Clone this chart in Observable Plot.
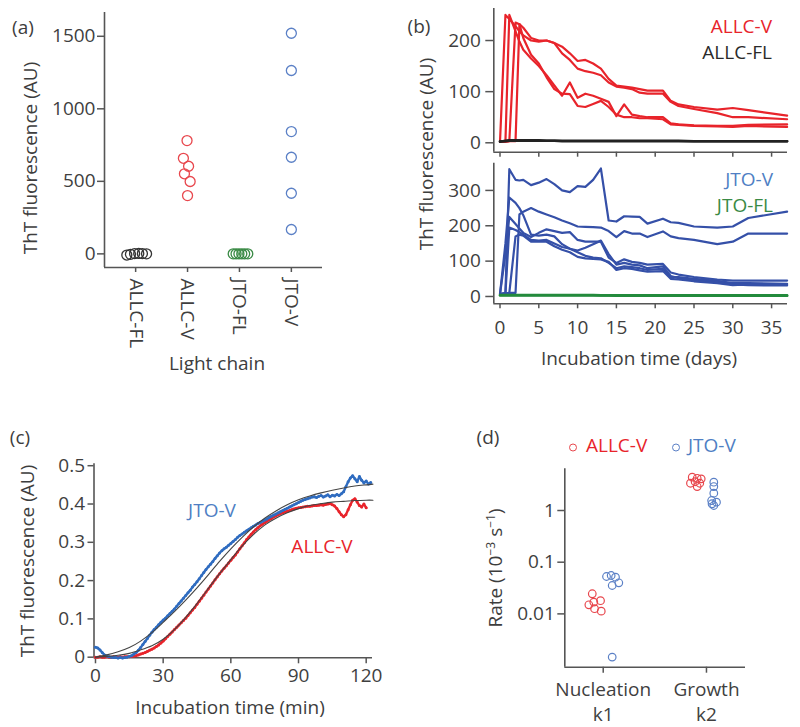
<!DOCTYPE html>
<html><head><meta charset="utf-8">
<script src="https://cdn.jsdelivr.net/npm/d3@7"></script>
<script src="https://cdn.jsdelivr.net/npm/@observablehq/plot@0.6"></script>
<style>
body{margin:0;background:#fff;}
#fig{position:relative;width:800px;height:727px;overflow:hidden;font-family:"Open Sans",Lato,sans-serif;color:#3d3d3d;}
#fig svg{position:absolute;left:0;top:0;}
#fig g[aria-label$="axis tick"] path{stroke-width:1.5;stroke:#555;}
.t{position:absolute;white-space:nowrap;font-size:19px;line-height:1;}
.c{transform:translate(-50%,-50%);}
.r{transform:translate(-100%,-50%);}
.l{transform:translate(0,-50%);}
.v{transform:translate(-50%,-50%) rotate(-90deg);}
.dot{display:inline-block;width:8px;height:8px;border-radius:50%;box-sizing:border-box;border:1.3px solid;}
</style></head><body><div id="fig"></div>
<script>
// ---------- Panel (a) ----------
const catsA = ["ALLC-FL", "ALLC-V", "JTO-FL", "JTO-V"];
const a_ALLC_FL = [-8, -3, 2, 3, 2, 0];
const j_ALLC_FL = [-0.17, -0.1, -0.02, 0.06, 0.13, 0.21];
const a_ALLC_V = [781, 659, 604, 552, 499, 402];
const j_ALLC_V = [-0.01, -0.08, 0.02, -0.06, 0.05, 0];
const a_JTO_FL = [0, 0, 0, 0, 0, 0];
const j_JTO_FL = [-0.12, -0.065, -0.01, 0.045, 0.1, 0.16];
const a_JTO_V = [1521, 1264, 843, 666, 418, 168];
const j_JTO_V = [0, 0, 0, 0, 0, 0];

// ---------- Panel (b) ----------
const tB = [0, 0.7, 1.2, 2, 2.5, 3, 4, 5, 6, 7, 8, 9, 10, 11, 12, 13, 14, 15, 16, 17, 18, 19, 21, 22, 23, 25, 28, 30, 32, 37];
const allcV1 = [2, 250, 242, 228, 218, 210, 200, 198, 200, 195, 188, 175, 160, 162, 155, 145, 125, 112, 110, 108, 105, 102, 102, 82, 75, 70, 65, 68, 64, 53];
const allcV2 = [2, 2, 3, 235, 232, 225, 205, 200, 200, 195, 175, 162, 145, 140, 137, 132, 118, 110, 108, 105, 98, 96, 96, 80, 72, 66, 58, 50, 50, 46];
const allcV3 = [2, 3, 250, 218, 198, 182, 165, 150, 132, 112, 92, 118, 88, 96, 92, 86, 80, 52, 75, 55, 52, 50, 50, 38, 36, 34, 33, 33, 35, 36];
const allcV4 = [2, 2, 3, 3, 232, 205, 172, 155, 128, 105, 96, 95, 72, 70, 76, 82, 70, 55, 50, 50, 48, 48, 46, 36, 35, 33, 32, 31, 33, 31];
const allcFL1 = [2, 4, 5, 5, 5, 5, 5, 5, 4, 4, 4, 4, 4, 4, 4, 4, 4, 4, 4, 4, 4, 4, 4, 4, 4, 3, 3, 3, 3, 3];
const allcFL2 = [3, 3, 4, 4, 4, 4, 4, 4, 4, 4, 3, 3, 3, 3, 3, 3, 3, 3, 3, 3, 3, 3, 3, 3, 3, 3, 3, 3, 3, 3];
const jtoV1 = [7, 10, 360, 330, 328, 330, 315, 322, 332, 318, 300, 295, 312, 310, 330, 362, 215, 212, 227, 226, 225, 206, 220, 210, 208, 198, 195, 198, 222, 240];
const jtoV2 = [7, 8, 10, 10, 232, 240, 250, 240, 232, 224, 215, 207, 198, 197, 196, 195, 185, 168, 185, 178, 178, 168, 184, 170, 165, 160, 148, 155, 178, 178];
const jtoV3 = [7, 150, 280, 265, 250, 230, 175, 172, 175, 170, 148, 135, 125, 115, 110, 108, 95, 80, 85, 83, 80, 75, 78, 55, 55, 50, 44, 38, 38, 36];
const jtoV4 = [7, 120, 225, 205, 192, 180, 168, 180, 190, 185, 180, 182, 160, 155, 155, 155, 110, 95, 105, 98, 95, 90, 92, 68, 62, 55, 48, 45, 45, 45];
const jtoV5 = [7, 8, 195, 188, 182, 175, 160, 158, 160, 150, 140, 135, 130, 138, 148, 158, 120, 90, 95, 90, 88, 80, 85, 58, 52, 46, 40, 34, 32, 31];
const jtoV6 = [7, 8, 10, 170, 175, 172, 155, 155, 155, 142, 132, 125, 112, 108, 106, 105, 98, 75, 80, 78, 74, 70, 72, 50, 48, 43, 38, 32, 34, 34];
const jtoFL1 = [4, 4, 4, 4, 4, 4, 4, 4, 4, 4, 4, 4, 4, 4, 4, 3, 3, 3, 3, 3, 3, 3, 3, 3, 3, 3, 3, 3, 3, 3];
const jtoFL2 = [3, 3, 3, 3, 3, 3, 3, 3, 3, 3, 3, 3, 3, 3, 3, 3, 3, 2, 2, 2, 2, 2, 2, 2, 2, 2, 2, 2, 2, 2];

// ---------- Panel (c) ----------
const tC = [0,1,2,3,4,5,6,7,8,9,10,11,12,13,14,15,16,17,18,19,20,21,22,23,24,25,26,27,28,29,30,31,32,33,34,35,36,37,38,39,40,41,42,43,44,45,46,47,48,49,50,51,52,53,54,55,56,57,58,59,60,61,62,63,64,65,66,67,68,69,70,71,72,73,74,75,76,77,78,79,80,81,82,83,84,85,86,87,88,89,90,91,92,93,94,95,96,97,98,99,100,101,102,103,104,105,106,107,108,109,110,111,112,113,114,115,116,117,118,119,120,121,122];
const jtoC = [0.026,0.024,0.019,0.012,0.006,0.003,0.001,0.000,-0.001,-0.001,
 -0.002,-0.001,-0.002,-0.001,0.000,0.002,0.004,0.008,0.012,0.018,
 0.025,0.033,0.041,0.049,0.057,0.065,0.072,0.078,0.085,0.091,
 0.097,0.102,0.108,0.114,0.120,0.126,0.133,0.140,0.147,0.154,
 0.161,0.168,0.175,0.183,0.190,0.197,0.205,0.213,0.221,0.229,
 0.236,0.243,0.250,0.258,0.265,0.272,0.278,0.283,0.287,0.292,
 0.297,0.302,0.307,0.313,0.318,0.322,0.326,0.330,0.334,0.338,
 0.342,0.345,0.349,0.352,0.355,0.358,0.361,0.365,0.368,0.371,
 0.374,0.377,0.380,0.383,0.386,0.389,0.392,0.395,0.398,0.401,
 0.404,0.407,0.410,0.412,0.414,0.416,0.418,0.419,0.417,0.420,
 0.422,0.418,0.421,0.424,0.419,0.423,0.421,0.425,0.422,0.427,
 0.432,0.445,0.458,0.468,0.474,0.466,0.458,0.472,0.462,0.455,
 0.460,0.452,0.456];
const allcC = [0.000,0.000,0.001,0.000,0.000,0.001,0.000,0.000,0.001,0.000,
 0.000,0.001,0.000,0.001,0.001,0.001,0.002,0.003,0.004,0.006,
 0.008,0.010,0.012,0.015,0.018,0.021,0.024,0.028,0.032,0.037,
 0.042,0.048,0.054,0.060,0.066,0.072,0.078,0.084,0.090,0.096,
 0.102,0.109,0.116,0.123,0.130,0.138,0.146,0.154,0.162,0.170,
 0.178,0.186,0.194,0.202,0.210,0.218,0.225,0.232,0.239,0.246,
 0.253,0.260,0.267,0.275,0.283,0.291,0.299,0.307,0.314,0.321,
 0.327,0.333,0.338,0.343,0.347,0.351,0.355,0.359,0.362,0.366,
 0.369,0.372,0.375,0.377,0.379,0.381,0.383,0.385,0.387,0.389,
 0.390,0.391,0.392,0.393,0.394,0.394,0.395,0.396,0.396,0.397,
 0.398,0.397,0.399,0.400,0.401,0.398,0.395,0.388,0.380,0.372,
 0.367,0.372,0.385,0.398,0.410,0.414,0.405,0.396,0.392,0.400,
 0.390];
const tFit = [0,5,10,15,20,25,30,35,40,45,50,55,60,65,70,75,80,85,90,95,100,105,110,115,120,123];
const fitJTO = [0,0.006,0.014,0.025,0.042,0.064,0.091,0.119,0.149,0.181,0.215,0.25,0.283,0.313,0.34,0.363,0.382,0.398,0.411,0.421,0.429,0.436,0.442,0.447,0.45,0.452];
const fitALLC = [0,0.002,0.005,0.01,0.019,0.03,0.047,0.072,0.104,0.14,0.179,0.218,0.255,0.29,0.32,0.345,0.363,0.377,0.388,0.396,0.401,0.405,0.407,0.409,0.41,0.41];

// ---------- Panel (d) ----------
const catsD = ["Nucleation\nk1", "Growth\nk2"];
const k1_ALLC = [0.0245, 0.015, 0.018, 0.0169, 0.0126, 0.0113];
const k1_ALLC_j = [-0.106, -0.139, -0.026, -0.091, -0.084, -0.019];
const k1_JTO = [0.0529, 0.0553, 0.0513, 0.0399, 0.0354, 0.00146];
const k1_JTO_j = [0.032, 0.077, 0.119, 0.151, 0.087, 0.087];
const k2_ALLC = [4.41, 4.2, 4.1, 3.6, 3.37, 3.37, 2.91];
const k2_ALLC_j = [-0.138, -0.09, -0.051, -0.11, -0.155, -0.065, -0.09];
const k2_JTO = [3.53, 2.91, 2.16, 1.56, 1.45, 1.25, 1.35];
const k2_JTO_j = [0.071, 0.071, 0.071, 0.05, 0.097, 0.071, 0.054];

// ---------- styling ----------
const RED = "#e8242b", RED_A = "#e8474d", BLUE_A = "#5b80c6", BLUE_B = "#3550a8", BLUE_C = "#2f6cc0";
const GREEN = "#238a3c", GREEN_A = "#3a8a45", BLACK = "#222", AX = "#555", TXT = "#3f3f3f";
const ST = {background: "transparent", fontFamily: "'Open Sans', Lato, sans-serif", fontSize: "19px", color: TXT, overflow: "visible"};
function frame(l, r, t, b) {
  return {width: 800, height: 727, marginLeft: l, marginRight: 800 - r, marginTop: t, marginBottom: 727 - b, style: ST};
}
const fig = document.getElementById("fig");
const add = (p) => fig.appendChild(p);
const pts = (vals, jit, base) => vals.map((v, k) => ({x: base + jit[k], y: v}));
const series = (t, vals) => vals.map((v, k) => ({t: t[k], v}));

// Panel (a)
add(Plot.plot({
  ...frame(104, 322, 12, 267),
  x: {domain: [-0.6, 3.6], ticks: [0, 1, 2, 3], tickFormat: (i) => catsA[i], tickRotate: 90, tickSize: 5, tickPadding: 6, label: null},
  y: {domain: [-94, 1664], ticks: [0, 500, 1000, 1500], tickFormat: d => String(d), tickSize: 7, tickPadding: 2, label: null},
  marks: [
    Plot.ruleX([-0.6], {stroke: AX, strokeWidth: 1.6}),
    Plot.ruleY([-94], {stroke: AX, strokeWidth: 1.6}),
    Plot.dot(pts(a_ALLC_FL, j_ALLC_FL, 0), {x: "x", y: "y", r: 5, stroke: "#333", strokeWidth: 1.3}),
    Plot.dot(pts(a_ALLC_V, j_ALLC_V, 1), {x: "x", y: "y", r: 5, stroke: RED_A, strokeWidth: 1.3}),
    Plot.dot(pts(a_JTO_FL, j_JTO_FL, 2), {x: "x", y: "y", r: 5, stroke: GREEN_A, strokeWidth: 1.3}),
    Plot.dot(pts(a_JTO_V, j_JTO_V, 3), {x: "x", y: "y", r: 5, stroke: BLUE_A, strokeWidth: 1.3})
  ]
}));

// Panel (b) top
const xB = {domain: [-0.8, 37.05], ticks: [0, 5, 10, 15, 20, 25, 30, 35], tickSize: 5, label: null};
add(Plot.plot({
  ...frame(493.3, 787, 8, 151.7),
  x: {...xB, tickFormat: () => ""},
  y: {domain: [-18.4, 262.6], ticks: [0, 100, 200], tickSize: 8, tickPadding: 5, label: null},
  marks: [
    Plot.ruleX([-0.8], {stroke: AX, strokeWidth: 1.6}),
    Plot.ruleY([-18.4], {stroke: AX, strokeWidth: 1.6}),
    ...[allcV1, allcV2, allcV3, allcV4].map(s => Plot.line(series(tB, s), {x: "t", y: "v", stroke: RED, strokeWidth: 2.2})),
    ...[allcFL1, allcFL2].map(s => Plot.line(series(tB, s), {x: "t", y: "v", stroke: BLACK, strokeWidth: 2.6}))
  ]
}));
// Panel (b) bottom
add(Plot.plot({
  ...frame(493.3, 787, 162.7, 303.3),
  x: {...xB, tickPadding: 12},
  y: {domain: [-20.7, 377], ticks: [0, 100, 200, 300], tickSize: 8, tickPadding: 5, label: null},
  marks: [
    Plot.ruleX([-0.8], {stroke: AX, strokeWidth: 1.6}),
    Plot.ruleY([-20.7], {stroke: AX, strokeWidth: 1.6}),
    ...[jtoV1, jtoV2, jtoV3, jtoV4, jtoV5, jtoV6].map(s => Plot.line(series(tB, s), {x: "t", y: "v", stroke: BLUE_B, strokeWidth: 2.2})),
    ...[jtoFL1, jtoFL2].map(s => Plot.line(series(tB, s), {x: "t", y: "v", stroke: GREEN, strokeWidth: 2.6}))
  ]
}));

// Panel (c)
add(Plot.plot({
  ...frame(93.5, 372, 463.3, 657.3),
  x: {domain: [-0.66, 122.8], ticks: [0, 30, 60, 90, 120], tickSize: 6, tickPadding: 5, label: null},
  y: {domain: [-0.0016, 0.505], ticks: [0, 0.1, 0.2, 0.3, 0.4, 0.5], tickFormat: d => d === 0 ? "0" : d.toFixed(1), tickSize: 6, tickPadding: 3, label: null},
  marks: [
    Plot.ruleX([-0.66], {stroke: AX, strokeWidth: 1.6}),
    Plot.ruleY([-0.0016], {stroke: AX, strokeWidth: 1.6}),
    Plot.line(series(tC, allcC), {x: "t", y: "v", stroke: RED, strokeWidth: 2.4}),
    Plot.dot(series(tC, allcC), {x: "t", y: "v", r: 1.5, fill: RED}),
    Plot.line(series(tC, jtoC), {x: "t", y: "v", stroke: BLUE_C, strokeWidth: 2.4}),
    Plot.dot(series(tC, jtoC), {x: "t", y: "v", r: 1.5, fill: BLUE_C}),
    Plot.line(series(tFit, fitJTO), {x: "t", y: "v", stroke: "#444", strokeWidth: 1.1, curve: "natural"}),
    Plot.line(series(tFit, fitALLC), {x: "t", y: "v", stroke: "#444", strokeWidth: 1.1, curve: "natural"})
  ]
}));

// Panel (d)
add(Plot.plot({
  ...frame(564.3, 745, 468.3, 666.7),
  x: {domain: [-0.372, 1.378], ticks: [0, 1], tickFormat: () => "", tickSize: 6, label: null},
  y: {type: "log", domain: [0.00093, 6.41], ticks: [0.01, 0.1, 1], tickFormat: d => String(d), tickSize: 7, tickPadding: 3, label: null},
  marks: [
    Plot.ruleX([-0.372], {stroke: AX, strokeWidth: 1.6}),
    Plot.ruleY([0.00093], {stroke: AX, strokeWidth: 1.6}),
    Plot.text(catsD, {x: (d, i) => i, frameAnchor: "bottom", lineAnchor: "top", dy: 11, lineHeight: 1.32, text: d => d, fill: TXT, fontSize: 19}),
    Plot.dot(pts(k1_ALLC, k1_ALLC_j, 0), {x: "x", y: "y", r: 3.8, stroke: RED_A, strokeWidth: 1.2}),
    Plot.dot(pts(k2_ALLC, k2_ALLC_j, 1), {x: "x", y: "y", r: 3.8, stroke: RED_A, strokeWidth: 1.2}),
    Plot.dot(pts(k1_JTO, k1_JTO_j, 0), {x: "x", y: "y", r: 3.8, stroke: BLUE_A, strokeWidth: 1.2}),
    Plot.dot(pts(k2_JTO, k2_JTO_j, 1), {x: "x", y: "y", r: 3.8, stroke: BLUE_A, strokeWidth: 1.2})
  ]
}));

// ---------- text labels ----------
function label(html, x, y, cls, color) {
  const d = document.createElement("div");
  d.className = "t " + cls;
  d.style.left = x + "px"; d.style.top = y + "px";
  if (color) d.style.color = color;
  d.innerHTML = html;
  fig.appendChild(d);
}
label("(a)", 23, 27, "c");
label("ThT fluorescence (AU)", 30, 158, "v");
label("Light chain", 217, 363, "c");
label("(b)", 419, 26, "c");
label("ThT fluorescence (AU)", 426, 154, "v");
label("ALLC-V", 772, 26, "r", RED);
label("ALLC-FL", 772, 52, "r", "#2a2a2a");
label("JTO-V", 773, 179, "r", "#4f7fc4");
label("JTO-FL", 773, 205, "r", GREEN_A);
label("Incubation time (days)", 639, 358, "c");
label("(c)", 20, 437, "c");
label("ThT fluorescence (AU)", 27, 561, "v");
label("Incubation time (min)", 230, 707, "c");
label("JTO-V", 212, 510, "c", "#4f7fc4");
label("ALLC-V", 322, 546, "c", RED);
label("(d)", 488, 437, "c");
label("Rate (10<sup style='font-size:12px'>−3</sup> s<sup style='font-size:12px'>−1</sup>)", 495, 568, "v");
label("<span class='dot' style='border-color:" + RED_A + "'></span>", 573, 445, "c");
label("ALLC-V", 586, 445, "l", RED);
label("<span class='dot' style='border-color:" + BLUE_A + "'></span>", 676, 445, "c");
label("JTO-V", 688, 445, "l", "#4f7fc4");
</script></body></html>
